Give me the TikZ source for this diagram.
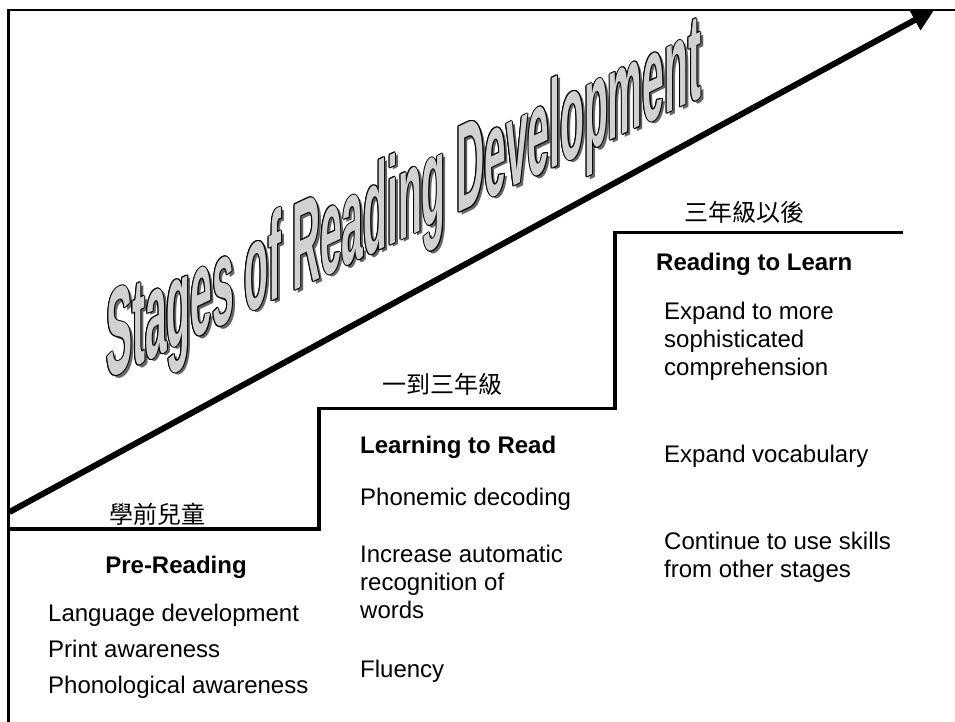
\documentclass[tikz,border=0pt]{standalone}
\usepackage{fontspec}
\setmainfont{Liberation Sans}
\newfontfamily\cjk{Noto Sans CJK TC}
\usetikzlibrary{arrows.meta}

\newcommand{\titletext}{Stages of Reading Development}
\newcommand{\titlefnt}{\fontsize{124}{124}\selectfont\bfseries}
% #1 name, #2 dx, #3 dy, #4 colour
\newcommand{\titlecopy}[4]{%
  \begin{scope}[shift={(106#2,-380#3)}, yslant=0.475, xscale=0.314]
    \node[transform shape, anchor=base west, inner sep=0, text=#4, font=\titlefnt] (#1) at (0,0) {\titletext};
  \end{scope}}

\tikzset{
  frame/.style={line width=2.5pt, line cap=rect},
  stair/.style={line width=3.5pt, line join=miter},
  growth/.style={line width=6pt, -{Triangle[length=23pt,width=22pt]}},
  grade/.style={anchor=base, inner sep=0, font=\cjk\fontsize{24}{28}\selectfont},
  head/.style={anchor=base west, inner sep=0, font=\fontsize{24}{28}\selectfont\bfseries},
  body/.style={anchor=base west, inner sep=0, align=left, font=\fontsize{24}{28}\selectfont},
}

\begin{document}
\begin{tikzpicture}[x=1pt,y=1pt]
\useasboundingbox (0,0) rectangle (955,-722);

% frame
\draw[frame] (955,-10) -- (8.7,-10) -- (8.7,-722);

% growth arrow
\coordinate (astart) at (9.5,-512);
\coordinate (aend) at (935,-9);
\draw[growth] (astart) -- (aend);

% stairs
\draw[stair] (8.7,-529) -- (319,-529) -- (319,-408.5) -- (615,-408.5) -- (615,-232.5) -- (903,-232.5);

% title (shadow, outline, fill)
\titlecopy{tshadow}{+3}{-2.5}{black!60}
\titlecopy{to1}{+1}{+0}{black}
\titlecopy{to2}{-1}{+0}{black}
\titlecopy{to3}{+0}{+1}{black}
\titlecopy{to4}{+0}{-1}{black}
\titlecopy{to5}{+0.7}{+0.7}{black}
\titlecopy{to6}{-0.7}{+0.7}{black}
\titlecopy{to7}{+0.7}{-0.7}{black}
\titlecopy{to8}{-0.7}{-0.7}{black}
\titlecopy{title}{+0}{+0}{black!18}

% grade labels
\node[grade] (g0) at (157.5,-523) {學前兒童};
\node[grade] (g1) at (442,-393) {一到三年級};
\node[grade] (g2) at (744,-221) {三年級以後};

% headings
\node[head, anchor=base] (h0) at (176,-573) {Pre-Reading};
\node[head] (h1) at (360,-453) {Learning to Read};
\node[head] (h2) at (656,-270) {Reading to Learn};

% Pre-Reading
\node[body] (p1) at (48,-621) {Language development};
\node[body] (p2) at (48,-657) {Print awareness};
\node[body] (p3) at (48,-693) {Phonological awareness};

% Learning to Read (multi-line nodes: base = last line)
\node[body] (l1) at (360,-505) {Phonemic decoding};
\node[body] (l2) at (360,-618) {Increase automatic\\recognition of\\words};
\node[body] (l3) at (360,-677) {Fluency};

% Reading to Learn
\node[body] (r1) at (664,-375) {Expand to more\\sophisticated\\comprehension};
\node[body] (r2) at (664,-462) {Expand vocabulary};
\node[body] (r3) at (664,-577) {Continue to use skills\\from other stages};
\end{tikzpicture}
\end{document}
